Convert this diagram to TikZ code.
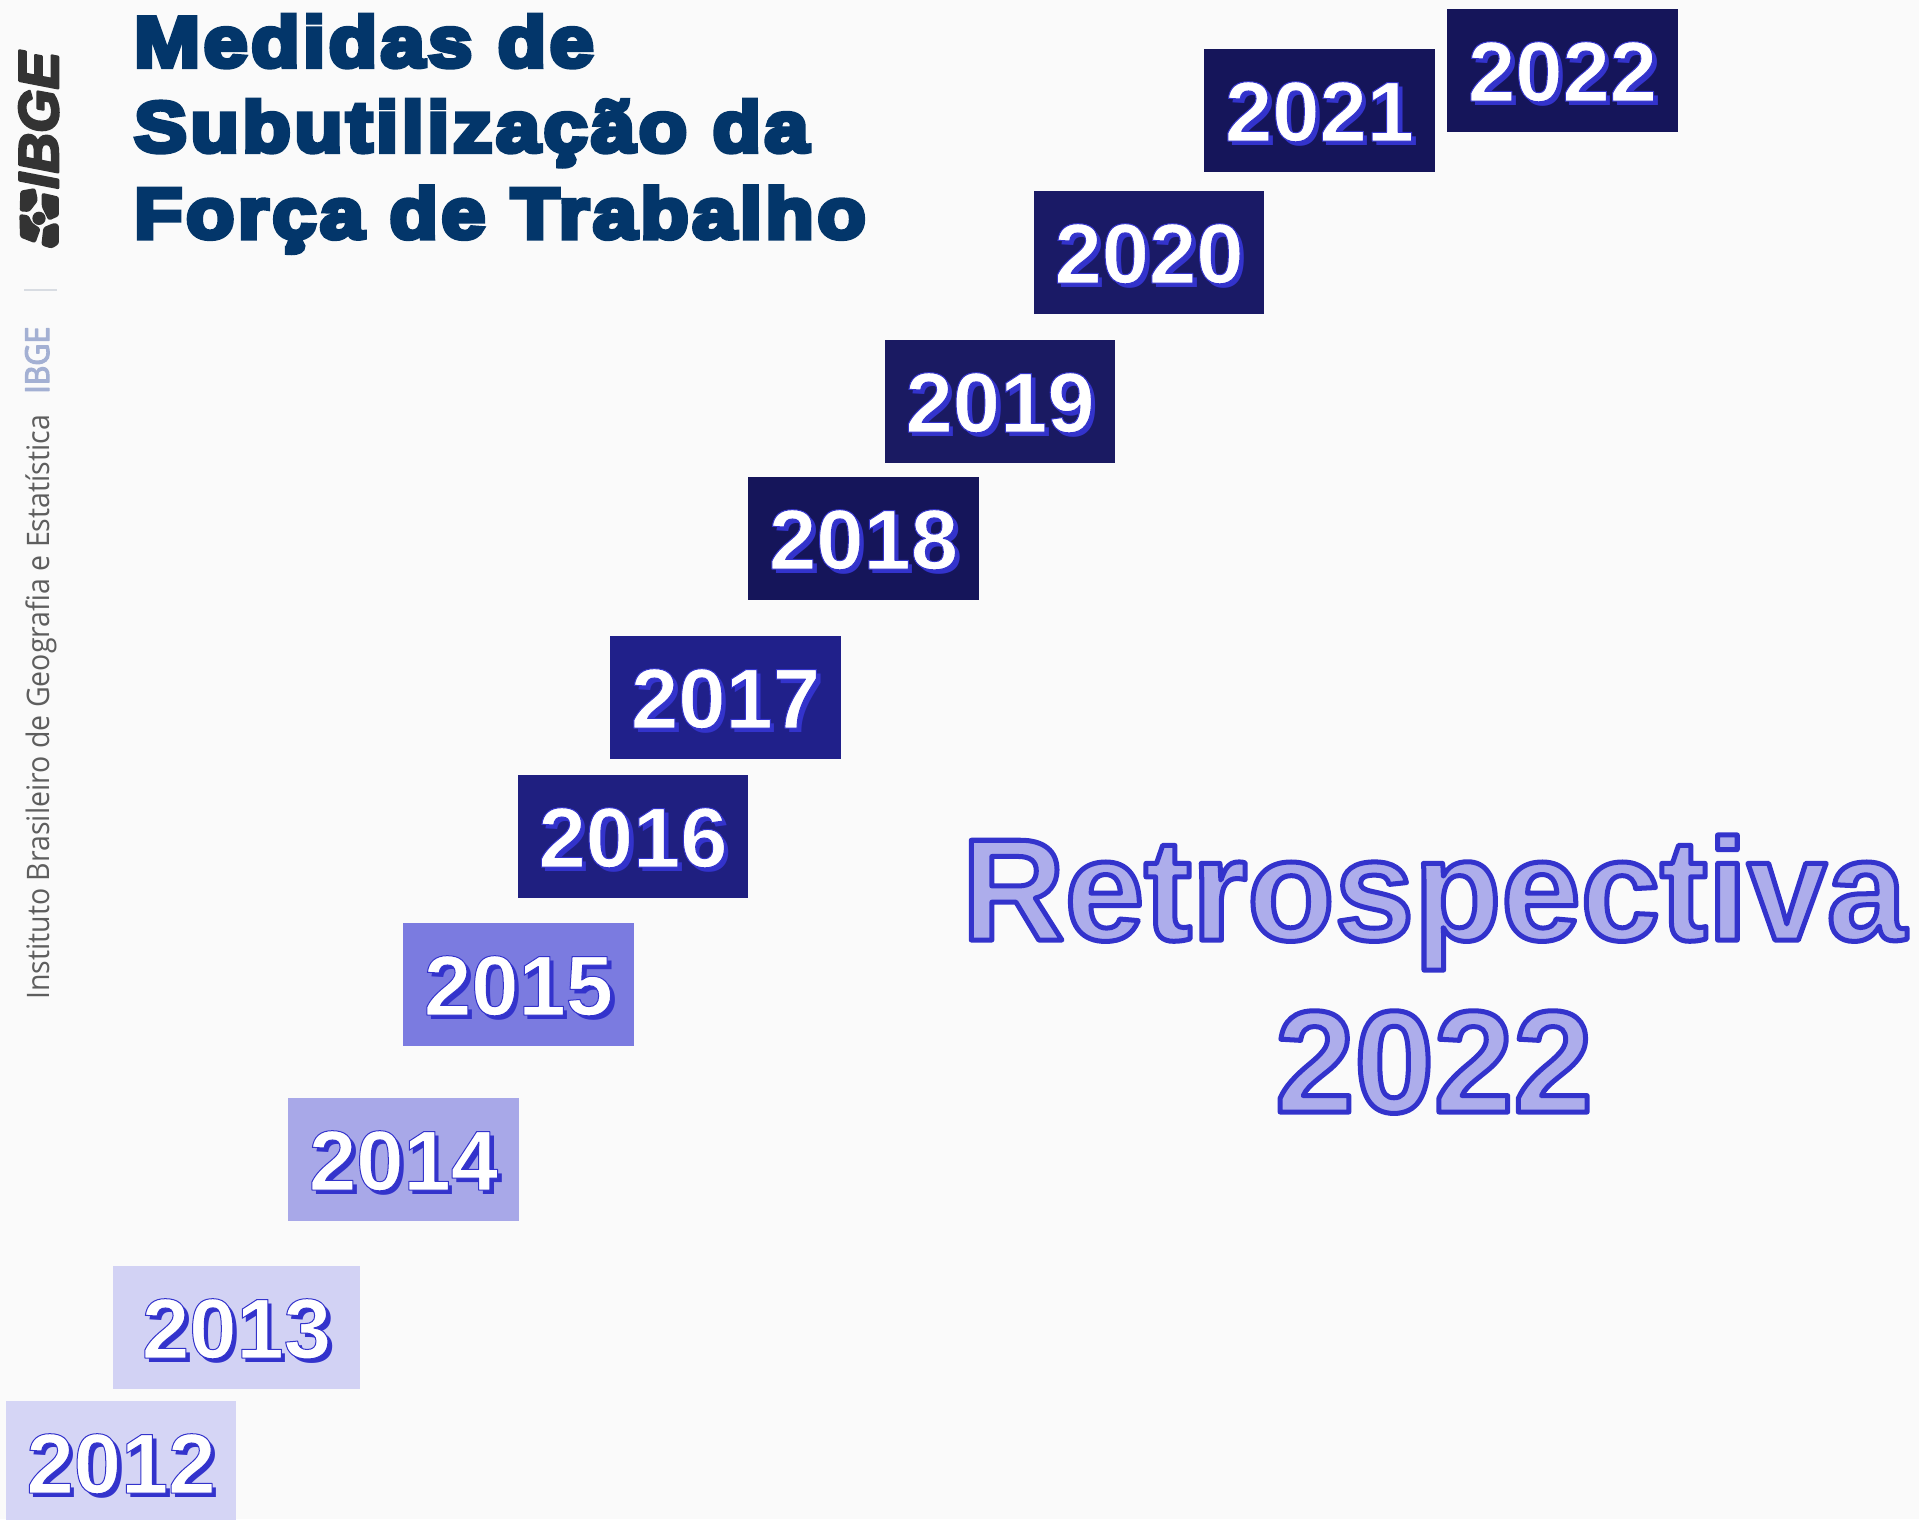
\documentclass[tikz,border=0pt]{standalone}
\usepackage{fontspec}
\setmainfont{Liberation Sans}
\newfontfamily\titlefont[LetterSpace=5,FakeStretch=1.115]{Liberation Sans}
\newfontfamily\narrowfont[FakeStretch=0.985]{Liberation Sans}
\newfontfamily\sidefont[FakeStretch=0.92]{Open Sans}
\definecolor{pagebg}{HTML}{FAFAFA}
\definecolor{accent}{HTML}{3333CC}
\definecolor{softfill}{HTML}{ADADEB}
\definecolor{titleblue}{HTML}{03366A}
\definecolor{logodark}{HTML}{333333}
\definecolor{logoblue}{HTML}{A3B0D3}
\definecolor{sidegrey}{HTML}{5E5E5E}
\definecolor{rulegrey}{HTML}{D8DCE2}
\definecolor{boxA}{HTML}{D5D5F5}
\definecolor{boxB}{HTML}{D2D2F4}
\definecolor{boxC}{HTML}{A8A8E8}
\definecolor{boxD}{HTML}{7B7BE0}
\definecolor{boxE}{HTML}{1F1F80}
\definecolor{boxF}{HTML}{20208A}
\definecolor{boxG}{HTML}{15155A}
\definecolor{boxH}{HTML}{1A1A62}
\definecolor{boxI}{HTML}{1A1A66}
\newcommand{\strokeon}[2]{\special{pdf:code 1 j 2 Tr #1 w #2 RG}}
\newcommand{\strokeoff}{\special{pdf:code 0 Tr}}
\newcommand{\yeartext}[1]{\rlap{\kern4.5pt\raisebox{-4.5pt}{\color{accent}#1}}{\color{white}\strokeon{1}{0.2 0.2 0.8}#1\strokeoff}}
\tikzset{
  yearbox/.style={inner sep=0pt,minimum height=123pt,text height=61pt,text depth=0pt,font=\fontsize{85}{85}\selectfont\bfseries},
  bigword/.style={inner sep=0pt,anchor=base,font=\narrowfont\fontsize{145}{145}\selectfont\bfseries},
  titleline/.style={inner sep=0pt,anchor=base west,font=\titlefont\fontsize{71}{71}\selectfont\bfseries},
  sideword/.style={inner sep=0pt,anchor=base west,rotate=90},
}
\newcommand{\yearnode}[5]{\node[yearbox,fill=#4,minimum width=#5pt] (y#1) at ({#2+#5/2},#3+61.5) {\yeartext{#1}};}
\newcommand{\titletext}[1]{{\color{titleblue}\special{pdf:code 0 j 2 M 2 Tr 5 w 0.012 0.212 0.416 RG}#1\special{pdf:code 0 Tr 10 M}}}
\newcommand{\bigtext}[1]{{\color{softfill}\strokeon{5}{0.2 0.2 0.8}#1\strokeoff}}
\begin{document}
\begin{tikzpicture}[x=1pt,y=-1pt]
\useasboundingbox (0,0) rectangle (1919,1519);
\fill[pagebg] (0,0) rectangle (1919,1519);
% year boxes
\yearnode{2012}{6}{1401}{boxA}{230}
\yearnode{2013}{113}{1266}{boxB}{247}
\yearnode{2014}{288}{1098}{boxC}{231}
\yearnode{2015}{403}{923}{boxD}{231}
\yearnode{2016}{518}{775}{boxE}{230}
\yearnode{2017}{610}{636}{boxF}{231}
\yearnode{2018}{748}{477}{boxG}{231}
\yearnode{2019}{885}{340}{boxH}{230}
\yearnode{2020}{1034}{191}{boxI}{230}
\yearnode{2021}{1204}{49}{boxG}{231}
\yearnode{2022}{1447}{9}{boxG}{231}
% big words
\node[bigword] (retro) at (1434,940) {\bigtext{Retrospectiva}};
\node[bigword] (ryear) at (1434,1112) {\bigtext{2022}};
% title
\node[titleline] (t1) at (134,66.5) {\titletext{Medidas de}};
\node[titleline] (t2) at (134,151.5) {\titletext{Subutilização da}};
\node[titleline] (t3) at (134,238) {\titletext{Força de Trabalho}};
% side logo
\node[sideword,font=\bfseries\itshape\fontsize{56}{56}\selectfont,text=logodark] (logo) at (58,189) {\special{pdf:code 1 j 2 Tr 2.5 w 0.2 0.2 0.2 RG}IBGE\special{pdf:code 0 Tr}};
\begin{scope}[shift={(10,180)},x=0.3333pt,y=-0.3333pt,fill=logodark,rounded corners=2.5pt]
\fill (31,32) -- (76,24) -- (84,62) -- (58,96) -- (29,94) -- cycle;
\fill (95,38) -- (147,50) -- (147,108) -- (116,122) -- (95,80) -- cycle;
\fill (28,102) -- (56,106) -- (66,128) -- (92,146) -- (76,190) -- (30,172) -- cycle;
\fill (100,142) -- (134,128) -- (147,134) -- (147,192) -- (125,206) -- (94,196) -- cycle;
\fill (87,115) circle (20);
\end{scope}
\draw[rulegrey,line width=1.5pt] (24,290) -- (57,290);
\node[sideword,font=\sidefont\fontsize{33}{33}\selectfont,text=logoblue] (ibgesmall) at (49,394) {\special{pdf:code 1 j 2 Tr 1.2 w 0.639 0.69 0.827 RG}IBGE\special{pdf:code 0 Tr}};
\node[sideword,font=\sidefont\fontsize{31}{31}\selectfont,text=sidegrey] (inst) at (49,1000) {Instituto Brasileiro de Geografia e Estatística};
\end{tikzpicture}
\end{document}
